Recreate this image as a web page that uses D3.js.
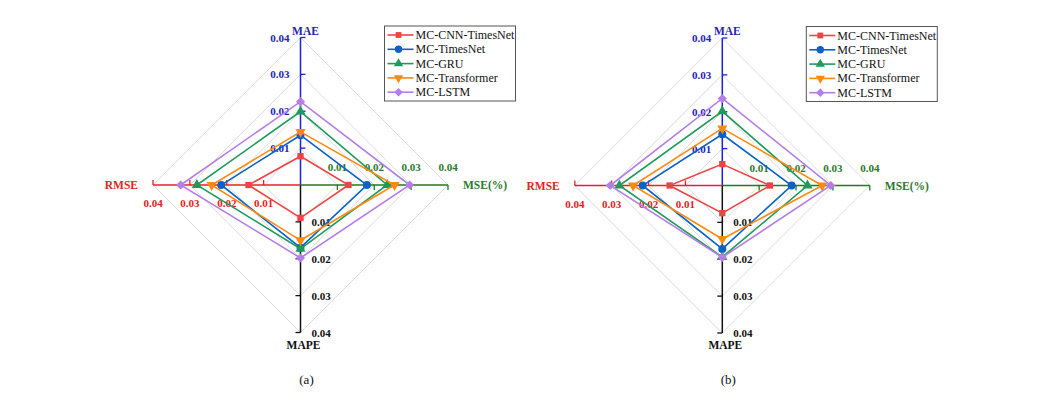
<!DOCTYPE html>
<html>
<head>
<meta charset="utf-8">
<script src="https://cdn.jsdelivr.net/npm/d3@7"></script>
<style>
  html, body { margin: 0; padding: 0; background: #fff; }
  svg { display: block; font-family: "Liberation Serif", "Times New Roman", serif; }
</style>
</head>
<body>
<svg id="chart" width="1057" height="401"></svg>
<script>
// ---------- data ----------
const axesNames = ["MAE", "MSE(%)", "MAPE", "RMSE"];
const tickValues = [0.01, 0.02, 0.03, 0.04];
const tickLabels = ["0.01", "0.02", "0.03", "0.04"];
const models = ["MC-CNN-TimesNet", "MC-TimesNet", "MC-GRU", "MC-Transformer", "MC-LSTM"];
const panels = ["(a)", "(b)"];

// values per model in axis order: MAE, MSE(%), MAPE, RMSE
const valuesA_CNNTimesNet = [0.0078, 0.0130, 0.0089, 0.0141];
const valuesA_TimesNet    = [0.0135, 0.0180, 0.0170, 0.0215];
const valuesA_GRU         = [0.0199, 0.0235, 0.0173, 0.0281];
const valuesA_Transformer = [0.0144, 0.0255, 0.0150, 0.0241];
const valuesA_LSTM        = [0.0226, 0.0296, 0.0198, 0.0325];

const valuesB_CNNTimesNet = [0.0058, 0.0129, 0.0075, 0.0143];
const valuesB_TimesNet    = [0.0139, 0.0188, 0.0172, 0.0216];
const valuesB_GRU         = [0.0201, 0.0231, 0.0194, 0.0279];
const valuesB_Transformer = [0.0155, 0.0271, 0.0145, 0.0242];
const valuesB_LSTM        = [0.0236, 0.0294, 0.0195, 0.0304];

const dataA = [valuesA_CNNTimesNet, valuesA_TimesNet, valuesA_GRU, valuesA_Transformer, valuesA_LSTM];
const dataB = [valuesB_CNNTimesNet, valuesB_TimesNet, valuesB_GRU, valuesB_Transformer, valuesB_LSTM];

// ---------- styles ----------
const seriesColors = ["#ee4444", "#0a62c8", "#1f9a5c", "#ff8a12", "#b47ee8"];
const axisColors = ["#1f1fd8", "#1f7a1f", "#111111", "#e82020"];
const labelColors = ["#2424b8", "#2a7a2a", "#111111", "#e82020"];
const symbols = [
  {type: d3.symbolSquare, size: 40, rot: 0},
  {type: d3.symbolCircle, size: 50, rot: 0},
  {type: d3.symbolTriangle, size: 45, rot: 0},
  {type: d3.symbolTriangle, size: 45, rot: 180},
  {type: d3.symbolSquare, size: 42, rot: 45}
];

const svg = d3.select("#chart");
const R = 147.5;
const r = d3.scaleLinear().domain([0, 0.04]).range([0, R]);
const angles = [0, Math.PI / 2, Math.PI, 3 * Math.PI / 2]; // up, right, down, left

function pt(i, v) {
  const a = angles[i];
  return [Math.sin(a) * r(v), -Math.cos(a) * r(v)];
}

function drawPanel(cx, cy, data, caption) {
  const g = svg.append("g").attr("transform", `translate(${cx},${cy})`);

  // grid diamonds
  const radial = d3.lineRadial()
    .angle((d, i) => angles[i])
    .radius(d => r(d))
    .curve(d3.curveLinearClosed);
  tickValues.forEach(t => {
    g.append("path")
      .attr("d", radial([t, t, t, t]))
      .attr("fill", "none")
      .attr("stroke", "#dcdcdc")
      .attr("stroke-width", 1);
  });

  // axes
  const tickLen = 5;
  axesNames.forEach((name, i) => {
    const end = pt(i, 0.04);
    g.append("line")
      .attr("x1", 0).attr("y1", 0)
      .attr("x2", end[0]).attr("y2", end[1])
      .attr("stroke", axisColors[i]).attr("stroke-width", 1.5);
    // tick direction: clockwise perpendicular
    const a = angles[i] + Math.PI / 2;
    const dx = Math.sin(a) * tickLen, dy = -Math.cos(a) * tickLen;
    tickValues.forEach((t, k) => {
      const p = pt(i, t);
      g.append("line")
        .attr("x1", p[0]).attr("y1", p[1])
        .attr("x2", p[0] + dx).attr("y2", p[1] + dy)
        .attr("stroke", axisColors[i]).attr("stroke-width", 1.3);
      let tx, ty, anchor;
      if (i === 0) { tx = p[0] - 11; ty = p[1] + 4; anchor = "end"; }
      else if (i === 1) { tx = p[0]; ty = p[1] - 14; anchor = "middle"; }
      else if (i === 2) { tx = p[0] + 11; ty = p[1] + 4; anchor = "start"; }
      else { tx = p[0]; ty = p[1] + 22; anchor = "middle"; }
      g.append("text")
        .attr("x", tx).attr("y", ty)
        .attr("text-anchor", anchor)
        .attr("font-size", 11).attr("font-weight", "bold")
        .attr("fill", labelColors[i])
        .text(tickLabels[k]);
    });
    // axis titles
    let tx, ty, anchor;
    if (i === 0) { tx = 5; ty = -R - 3; anchor = "middle"; }
    else if (i === 1) { tx = R + 15; ty = 4; anchor = "start"; }
    else if (i === 2) { tx = 3; ty = R + 16; anchor = "middle"; }
    else { tx = -R - 15; ty = 4; anchor = "end"; }
    g.append("text")
      .attr("x", tx).attr("y", ty)
      .attr("text-anchor", anchor)
      .attr("font-size", 11.5).attr("font-weight", "bold")
      .attr("fill", labelColors[i])
      .text(name);
  });

  // series
  data.forEach((vals, s) => {
    g.append("path")
      .attr("d", radial(vals))
      .attr("fill", "none")
      .attr("stroke", seriesColors[s])
      .attr("stroke-width", 1.6);
    vals.forEach((v, i) => {
      const p = pt(i, v);
      g.append("path")
        .attr("d", d3.symbol().type(symbols[s].type).size(symbols[s].size)())
        .attr("transform", `translate(${p[0]},${p[1]}) rotate(${symbols[s].rot})`)
        .attr("fill", seriesColors[s]);
    });
  });

  // legend
  const lx = 84, ly = -159, lw = 131, lh = 75;
  const lg = g.append("g").attr("transform", `translate(${lx},${ly})`);
  lg.append("rect")
    .attr("x", 0).attr("y", 0).attr("width", lw).attr("height", lh)
    .attr("fill", "#fff").attr("stroke", "#555").attr("stroke-width", 1);
  models.forEach((m, s) => {
    const yy = 9 + s * 14.3;
    lg.append("line")
      .attr("x1", 3).attr("x2", 29).attr("y1", yy).attr("y2", yy)
      .attr("stroke", seriesColors[s]).attr("stroke-width", 1.6);
    lg.append("path")
      .attr("d", d3.symbol().type(symbols[s].type).size(symbols[s].size * 0.85)())
      .attr("transform", `translate(14,${yy}) rotate(${symbols[s].rot})`)
      .attr("fill", seriesColors[s]);
    lg.append("text")
      .attr("x", 31).attr("y", yy + 4)
      .attr("font-size", 12).attr("fill", "#111")
      .text(m);
  });

  // caption
  svg.append("text")
    .attr("x", cx + 6).attr("y", 384)
    .attr("text-anchor", "middle")
    .attr("font-size", 13).attr("fill", "#111")
    .text(caption);
}

drawPanel(300.5, 185, dataA, panels[0]);
drawPanel(722.3, 185.5, dataB, panels[1]);
</script>
</body>
</html>
